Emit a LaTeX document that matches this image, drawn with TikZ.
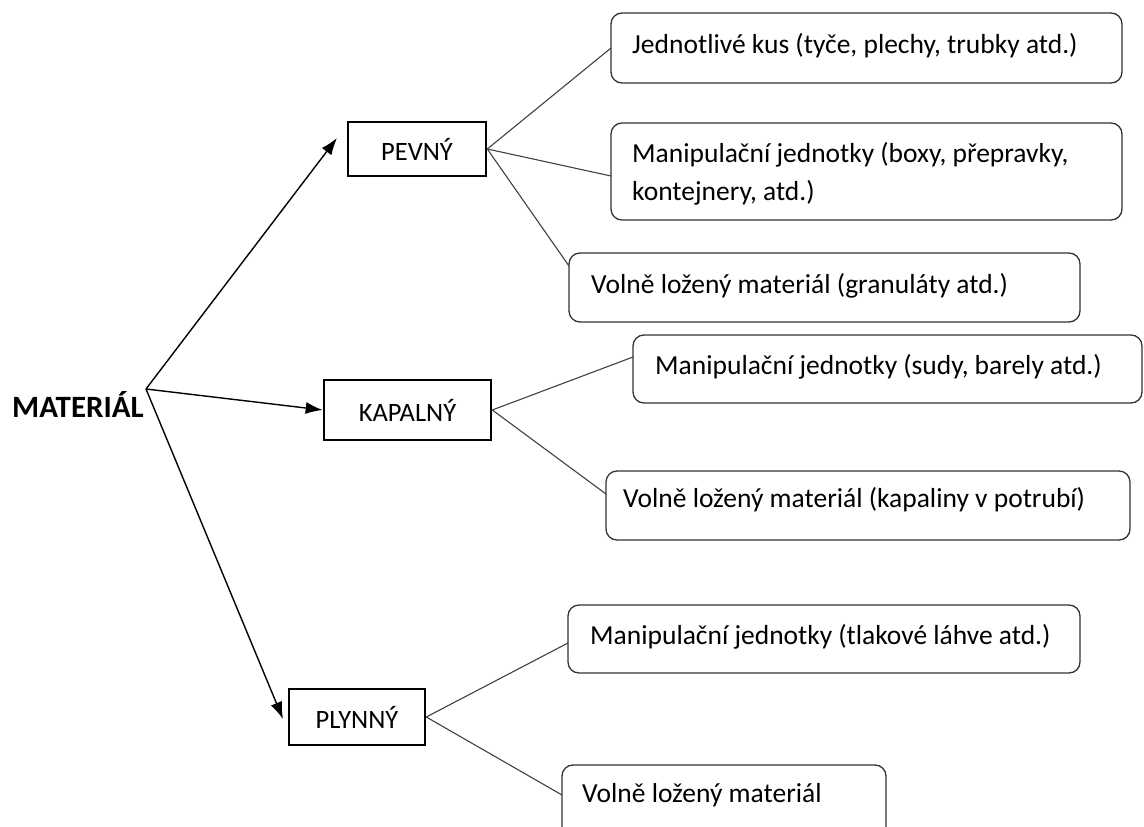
\documentclass[tikz,border=0pt]{standalone}
\usepackage{fontspec}
\setmainfont{Carlito}
\usetikzlibrary{arrows.meta}
\begin{document}
\begin{tikzpicture}[x=1pt,y=-1pt,
  catbox/.style={draw=black,line width=2.6pt,minimum height=54pt,inner sep=0pt,
    font=\fontsize{26.5}{30}\selectfont},
  itembox/.style={draw=black!80,line width=1.3pt,rounded corners=11pt},
  itemtext/.style={anchor=west,inner sep=0pt,font=\fontsize{27.5}{38}\selectfont},
  branch/.style={draw=black!75,line width=1.1pt},
  feed/.style={draw=black,line width=1.4pt,-{Latex[length=17pt,width=12pt]}}]
\useasboundingbox (0,0) rectangle (1144,827);

% root label
\node[anchor=west,inner sep=0pt,font=\fontsize{31}{34}\selectfont\bfseries] (root) at (12,404) {MATERIÁL};
\coordinate (hub) at (146,389);

% categories
\node[catbox,minimum width=138pt] (pevny) at (417,149) {PEVNÝ};
\node[catbox,minimum width=167pt,minimum height=60pt] (kapalny) at (407.5,410) {KAPALNÝ};
\node[catbox,minimum width=136pt,minimum height=56pt] (plynny) at (357,717) {PLYNNÝ};

% item boxes with their texts and attachment points
\draw[itembox] (611,13) rectangle (1122,83);
\node[itemtext] (t1) at (632,46) {Jednotlivé kus (tyče, plechy, trubky atd.)};
\coordinate (b1) at (611,48);

\draw[itembox] (611,123) rectangle (1122,220);
\node[itemtext,align=left] (t2) at (632,174) {Manipulační jednotky\hskip6pt (boxy, přepravky,\\kontejnery, atd.)};
\coordinate (b2) at (611,176);

\draw[itembox] (569,253) rectangle (1080,322);
\node[itemtext] (t3) at (591,286) {Volně ložený materiál (granuláty atd.)};
\coordinate (b3) at (569,266);

\draw[itembox] (633,335) rectangle (1142,403);
\node[itemtext] (t4) at (655,367) {Manipulační jednotky\hskip6pt (sudy,\hskip6pt barely atd.)};
\coordinate (b4) at (633,357);

\draw[itembox] (606,471) rectangle (1130,540);
\node[itemtext] (t5) at (623,500) {Volně ložený materiál (kapaliny v potrubí)};
\coordinate (b5) at (606,494);

\draw[itembox] (568,605) rectangle (1080,673);
\node[itemtext] (t6) at (590,637) {Manipulační jednotky\hskip6pt (tlakové láhve atd.)};
\coordinate (b6) at (568,643);

\draw[itembox] (562,765) rectangle (886,840);
\node[itemtext] (t7) at (582,795) {Volně ložený materiál};
\coordinate (b7) at (562,795);

% arrows from the root
\coordinate (pevnytip) at (337,138);
\coordinate (plynnytip) at (283,719);
\draw[feed] (hub) -- (pevnytip);
\draw[feed] (hub) -- (kapalny.west);
\draw[feed] (hub) -- (plynnytip);

% branches
\draw[branch] (pevny.east) -- (b1);
\draw[branch] (pevny.east) -- (b2);
\draw[branch] (pevny.east) -- (b3);
\draw[branch] (kapalny.east) -- (b4);
\draw[branch] (kapalny.east) -- (b5);
\draw[branch] (plynny.east) -- (b6);
\draw[branch] (plynny.east) -- (b7);
\end{tikzpicture}
\end{document}
